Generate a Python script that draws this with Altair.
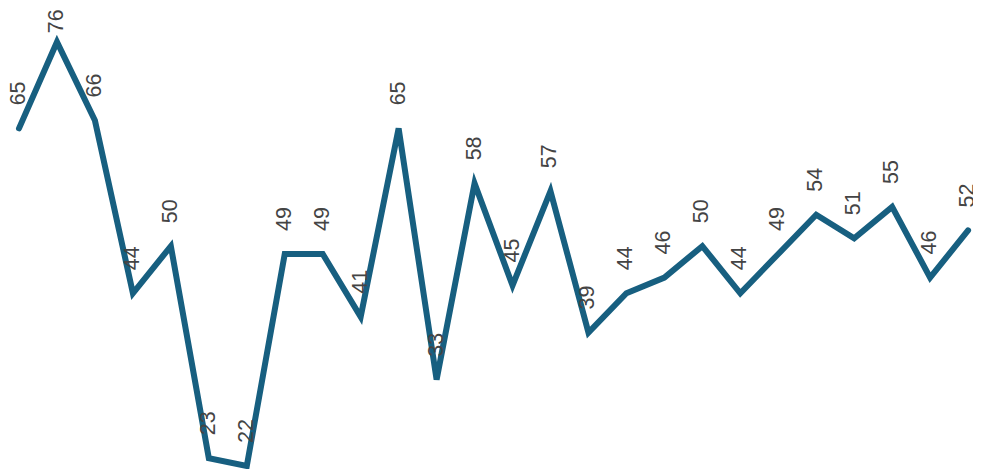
import altair as alt
import pandas as pd

idx = list(range(26))
values = [65, 76, 66, 44, 50, 23, 22, 49, 49, 41, 65, 33, 58, 45, 57, 39,
          44, 46, 50, 44, 49, 54, 51, 55, 46, 52]

df = pd.DataFrame({"i": idx, "v": values})

x = alt.X("i:Q", scale=alt.Scale(domain=[-0.29, 25.13], nice=False, zero=False), axis=None)
y_scale = alt.Scale(domain=[22, 80.33], nice=False, zero=False)

line = alt.Chart(df).mark_line(
    color="#175f80", strokeWidth=6, strokeCap="round", strokeJoin="miter"
).encode(x=x, y=alt.Y("v:Q", scale=y_scale, axis=None))

labels = alt.Chart(df).transform_calculate(
    ly="min(datum.v, 74.2)"
).mark_text(
    angle=270, align="left", baseline="middle", dx=23,
    font="Liberation Sans", fontSize=21.5, color="#444444"
).encode(x=x, y=alt.Y("ly:Q", scale=y_scale, axis=None), text="v:Q")

chart = alt.layer(line, labels).properties(
    width=965, height=458,
    padding={"left": 0, "top": 0, "right": 0, "bottom": 3},
    autosize=alt.AutoSizeParams(type="none"),
).configure_view(stroke=None)

chart.save("out.html", embed_options={"renderer": "svg", "actions": False})
